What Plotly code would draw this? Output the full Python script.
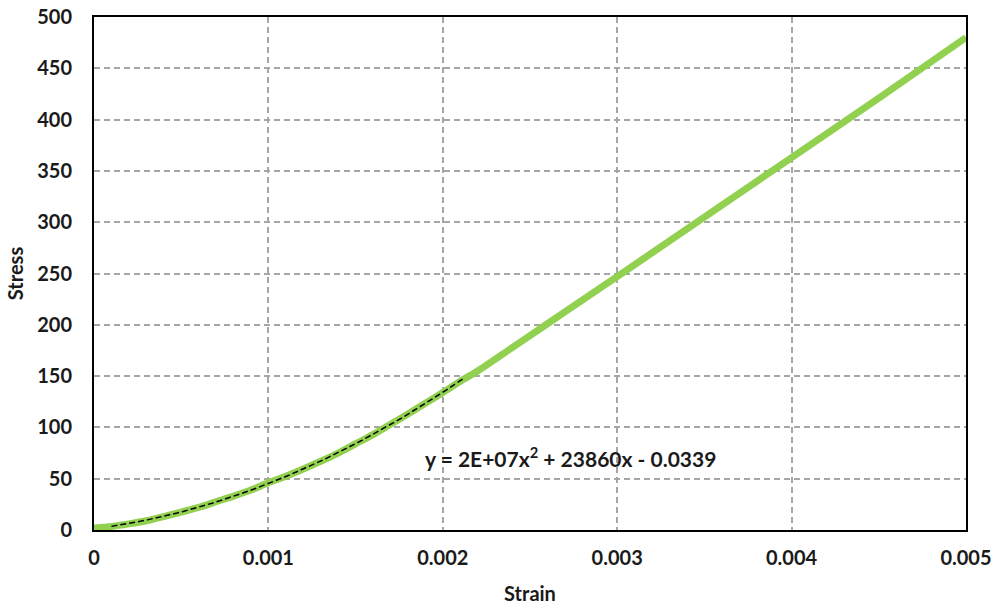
import numpy as np
import plotly.graph_objects as go

strain = [0, 0.0001, 0.0002, 0.0003, 0.0004, 0.0005, 0.0006, 0.0007, 0.0008, 0.0009,
          0.001, 0.0011, 0.0012, 0.0013, 0.0014, 0.0015, 0.0016, 0.0017, 0.0018, 0.0019,
          0.002, 0.0021, 0.0022, 0.0024, 0.0026, 0.0028, 0.003, 0.0035, 0.004, 0.0045, 0.005]
stress = [2, 3.5, 6, 9, 13, 17.5, 22, 27.5, 33, 39,
          46, 52.5, 59.5, 67, 75, 84, 93, 103, 113, 123.5,
          134, 145, 155, 178, 201, 224, 247, 305, 363, 421, 480]

x_ticks = [0, 0.001, 0.002, 0.003, 0.004, 0.005]
x_tick_text = ["0", "0.001", "0.002", "0.003", "0.004", "0.005"]
y_ticks = [0, 50, 100, 150, 200, 250, 300, 350, 400, 450, 500]

trend_label = "y = 2E+07x<sup>2</sup> + 23860x - 0.0339"
trend_end = 0.00212

# polynomial trendline fitted to the early (non-linear) part of the data
xs = np.array(strain)
ys = np.array(stress)
mask = xs <= 0.002
coef = np.polyfit(xs[mask], ys[mask], 2)
tx = np.linspace(0.0001, trend_end, 60)
ty = np.polyval(coef, tx)

font_family = "Lato, 'Open Sans', sans-serif"
tick_font = dict(family=font_family, size=20, color="#1a1a1a", weight="bold")

fig = go.Figure()
fig.add_trace(go.Scatter(x=strain, y=stress, mode="lines",
                         line=dict(color="#92D050", width=7, shape="spline", smoothing=0.8),
                         hoverinfo="skip", showlegend=False))
fig.add_trace(go.Scatter(x=tx, y=ty, mode="lines",
                         line=dict(color="black", width=1.5, dash="6px,3px"),
                         showlegend=False))

fig.add_annotation(x=0.00273, y=71, xref="x", yref="y", text=trend_label,
                   showarrow=False, xanchor="center", yanchor="middle",
                   font=dict(family=font_family, size=21, color="#1a1a1a", weight="bold"))

axis_common = dict(showline=True, linecolor="black", linewidth=2, mirror=True,
                   showgrid=True, gridcolor="#A6A6A6", griddash="6px,4px", gridwidth=1.5,
                   zeroline=False, ticks="", automargin=False, tickfont=tick_font)

fig.update_xaxes(range=[0, 0.005], tickvals=x_ticks, ticktext=x_tick_text,
                 title=dict(text="Strain", standoff=26, font=tick_font),
                 ticklabelstandoff=9, **axis_common)
fig.update_yaxes(range=[0, 500], tickvals=y_ticks,
                 title=dict(text="Stress", standoff=8, font=tick_font),
                 ticklabelstandoff=16, **axis_common)

fig.update_layout(width=995, height=605, margin=dict(l=94, r=29, t=17, b=75),
                  plot_bgcolor="white", paper_bgcolor="white")

fig.write_html("out.html")
